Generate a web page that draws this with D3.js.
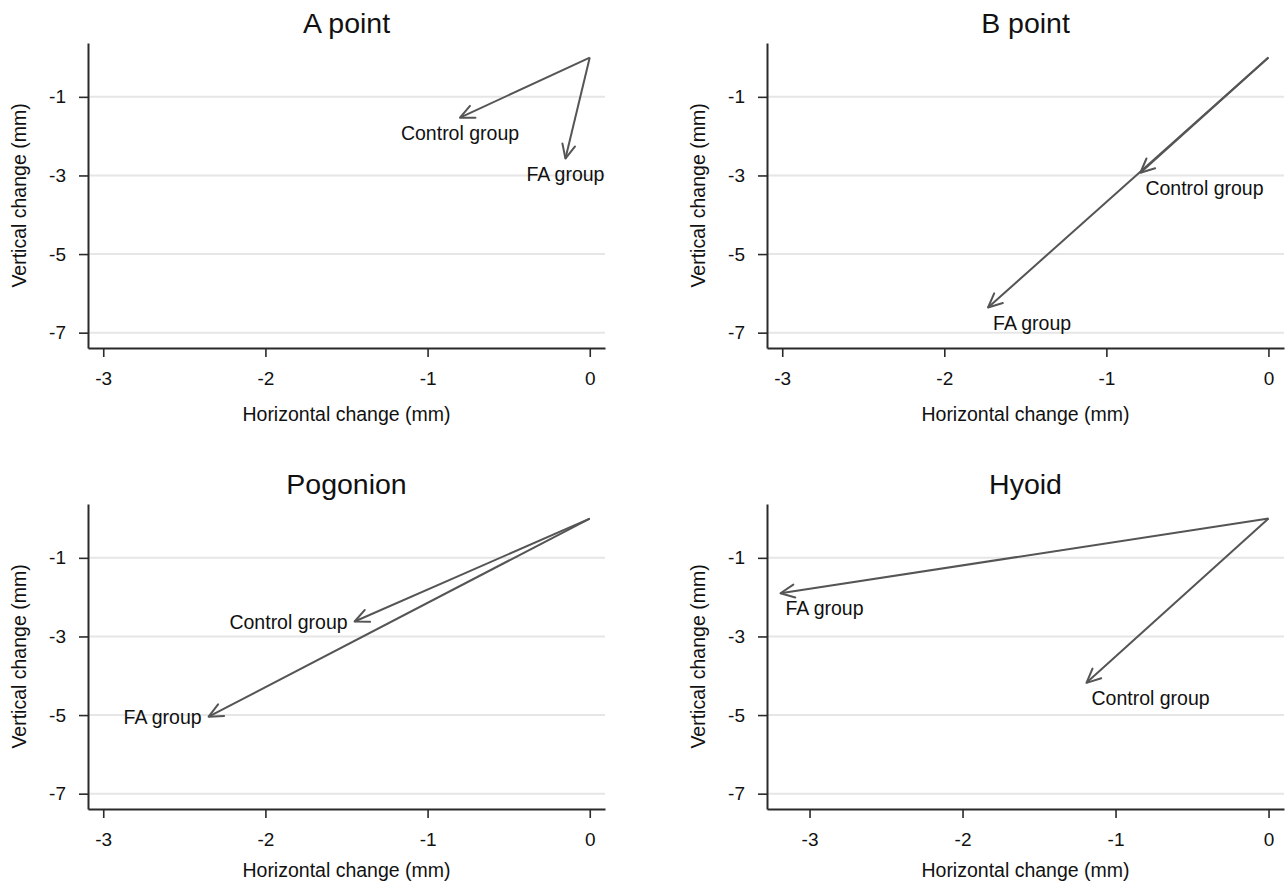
<!DOCTYPE html>
<html>
<head>
<meta charset="utf-8">
<script src="https://cdn.jsdelivr.net/npm/d3@7/dist/d3.min.js"></script>
<style>
  body { margin: 0; background: #fff; }
  svg text { font-family: "Liberation Sans", Arial, sans-serif; fill: #111; }
</style>
</head>
<body>
<div id="chart"></div>
<script>
// Panel names, in reading order.
var panelTitles = ['A point', 'B point', 'Pogonion', 'Hyoid'];
var groupNames = ['Control group', 'FA group'];

// Mean change (mm) per panel.
var controlX = [-0.80, -0.79, -1.45, -1.19];
var controlY = [-1.53, -2.93, -2.62, -4.18];
var faX = [-0.15, -1.73, -2.35, -3.19];
var faY = [-2.57, -6.36, -5.04, -1.90];

// Axis ticks and extents.
var xTicks = [-3, -2, -1, 0];
var yTicks = [-1, -3, -5, -7];
var xMin = [-3.094, -3.094, -3.094, -3.278];
var xMax = [0.094, 0.096, 0.094, 0.101];
var yMin = -7.39, yMax = 0.37;

var xTitle = 'Horizontal change (mm)';
var yTitle = 'Vertical change (mm)';

// Layout
var WIDTH = 1288, HEIGHT = 884;
var COL_X = [0, 679], ROW_Y = [0, 461];
var PLOT_LEFT = 88, PLOT_RIGHT = 605, PLOT_TOP = 43, PLOT_BOTTOM = 348;
var X_TITLE_Y = [421, 416];   // per row, the bottom row sits a bit tighter
var ARROW_COLOR = '#555';
var AXIS_COLOR = '#2a2a2a';
var GRID_COLOR = '#e6e6e6';
var LABEL_SIZE = '19.5px';

// Stata-ish clock positions for the marker labels: [control, fa]
var labelClock = [[6, 6], [5, 5], [9, 9], [5, 5]];

function labelPlacement(clock) {
  if (clock == 6) return {dx: 0, dy: 22.5, anchor: 'middle'};
  if (clock == 5) return {dx: 5, dy: 22, anchor: 'start'};
  if (clock == 9) return {dx: -7, dy: 7, anchor: 'end'};
  return {dx: 0, dy: 0, anchor: 'middle'};
}

var svg = d3.select('#chart').append('svg')
  .attr('width', WIDTH)
  .attr('height', HEIGHT);

svg.append('defs').append('marker')
  .attr('id', 'head')
  .attr('markerUnits', 'userSpaceOnUse')
  .attr('viewBox', '-16 -8 18 16')
  .attr('markerWidth', 18)
  .attr('markerHeight', 16)
  .attr('refX', 0)
  .attr('refY', 0)
  .attr('orient', 'auto')
.append('path')
  .attr('d', 'M-14,-6.5L0,0L-14,6.5')
  .attr('fill', 'none')
  .attr('stroke', ARROW_COLOR)
  .attr('stroke-width', 2)
  .attr('stroke-linejoin', 'round')
  .attr('stroke-linecap', 'round');

panelTitles.forEach(function(title, i) {
  var row = Math.floor(i / 2);
  var ox = COL_X[i % 2], oy = ROW_Y[row];
  var g = svg.append('g').attr('transform', 'translate(' + ox + ',' + oy + ')');

  var x = d3.scaleLinear().domain([xMin[i], xMax[i]]).range([PLOT_LEFT, PLOT_RIGHT]);
  var y = d3.scaleLinear().domain([yMin, yMax]).range([PLOT_BOTTOM, PLOT_TOP]);

  // Gridlines
  g.append('g').selectAll('line')
    .data(yTicks)
  .enter().append('line')
    .attr('x1', PLOT_LEFT).attr('x2', PLOT_RIGHT)
    .attr('y1', function(d) { return y(d); })
    .attr('y2', function(d) { return y(d); })
    .attr('stroke', GRID_COLOR)
    .attr('stroke-width', 2);

  // Axes
  var xAxis = g.append('g')
    .attr('transform', 'translate(0,' + PLOT_BOTTOM + ')')
    .call(d3.axisBottom(x).tickValues(xTicks).tickSize(9).tickSizeOuter(0)
      .tickPadding(15));
  var yAxis = g.append('g')
    .attr('transform', 'translate(' + PLOT_LEFT + ',0)')
    .call(d3.axisLeft(y).tickValues(yTicks).tickSize(9).tickSizeOuter(0)
      .tickPadding(13));
  [xAxis, yAxis].forEach(function(a) {
    a.select('.domain').attr('stroke', AXIS_COLOR).attr('stroke-width', 2);
    a.selectAll('.tick line').attr('stroke', AXIS_COLOR).attr('stroke-width', 1.6);
    a.selectAll('.tick text')
      .attr('fill', '#111')
      .style('font-size', '19px')
      .style('font-family', '"Liberation Sans", Arial, sans-serif');
  });
  // plain hyphen for negatives, like the source
  g.selectAll('.tick text').text(function(d) { return String(d); });

  // Titles
  g.append('text')
    .attr('x', (PLOT_LEFT + PLOT_RIGHT) / 2)
    .attr('y', 33)
    .attr('text-anchor', 'middle')
    .style('font-size', '28.5px')
    .text(title);
  g.append('text')
    .attr('x', (PLOT_LEFT + PLOT_RIGHT) / 2)
    .attr('y', X_TITLE_Y[row])
    .attr('text-anchor', 'middle')
    .style('font-size', LABEL_SIZE)
    .text(xTitle);
  g.append('text')
    .attr('transform', 'translate(26,' + (PLOT_TOP + PLOT_BOTTOM) / 2 + ') rotate(-90)')
    .attr('text-anchor', 'middle')
    .style('font-size', LABEL_SIZE)
    .text(yTitle);

  // Arrows from the origin
  var ends = [
    {name: groupNames[0], x: controlX[i], y: controlY[i], clock: labelClock[i][0]},
    {name: groupNames[1], x: faX[i], y: faY[i], clock: labelClock[i][1]}
  ];
  g.append('g').selectAll('line')
    .data(ends)
  .enter().append('line')
    .attr('x1', x(0)).attr('y1', y(0))
    .attr('x2', function(d) { return x(d.x); })
    .attr('y2', function(d) { return y(d.y); })
    .attr('stroke', ARROW_COLOR)
    .attr('stroke-width', 2)
    .attr('marker-end', 'url(#head)');

  g.append('g').selectAll('text')
    .data(ends)
  .enter().append('text')
    .each(function(d) {
      var p = labelPlacement(d.clock);
      d3.select(this)
        .attr('x', x(d.x) + p.dx)
        .attr('y', y(d.y) + p.dy)
        .attr('text-anchor', p.anchor);
    })
    .style('font-size', LABEL_SIZE)
    .text(function(d) { return d.name; });
});
</script>
</body>
</html>
